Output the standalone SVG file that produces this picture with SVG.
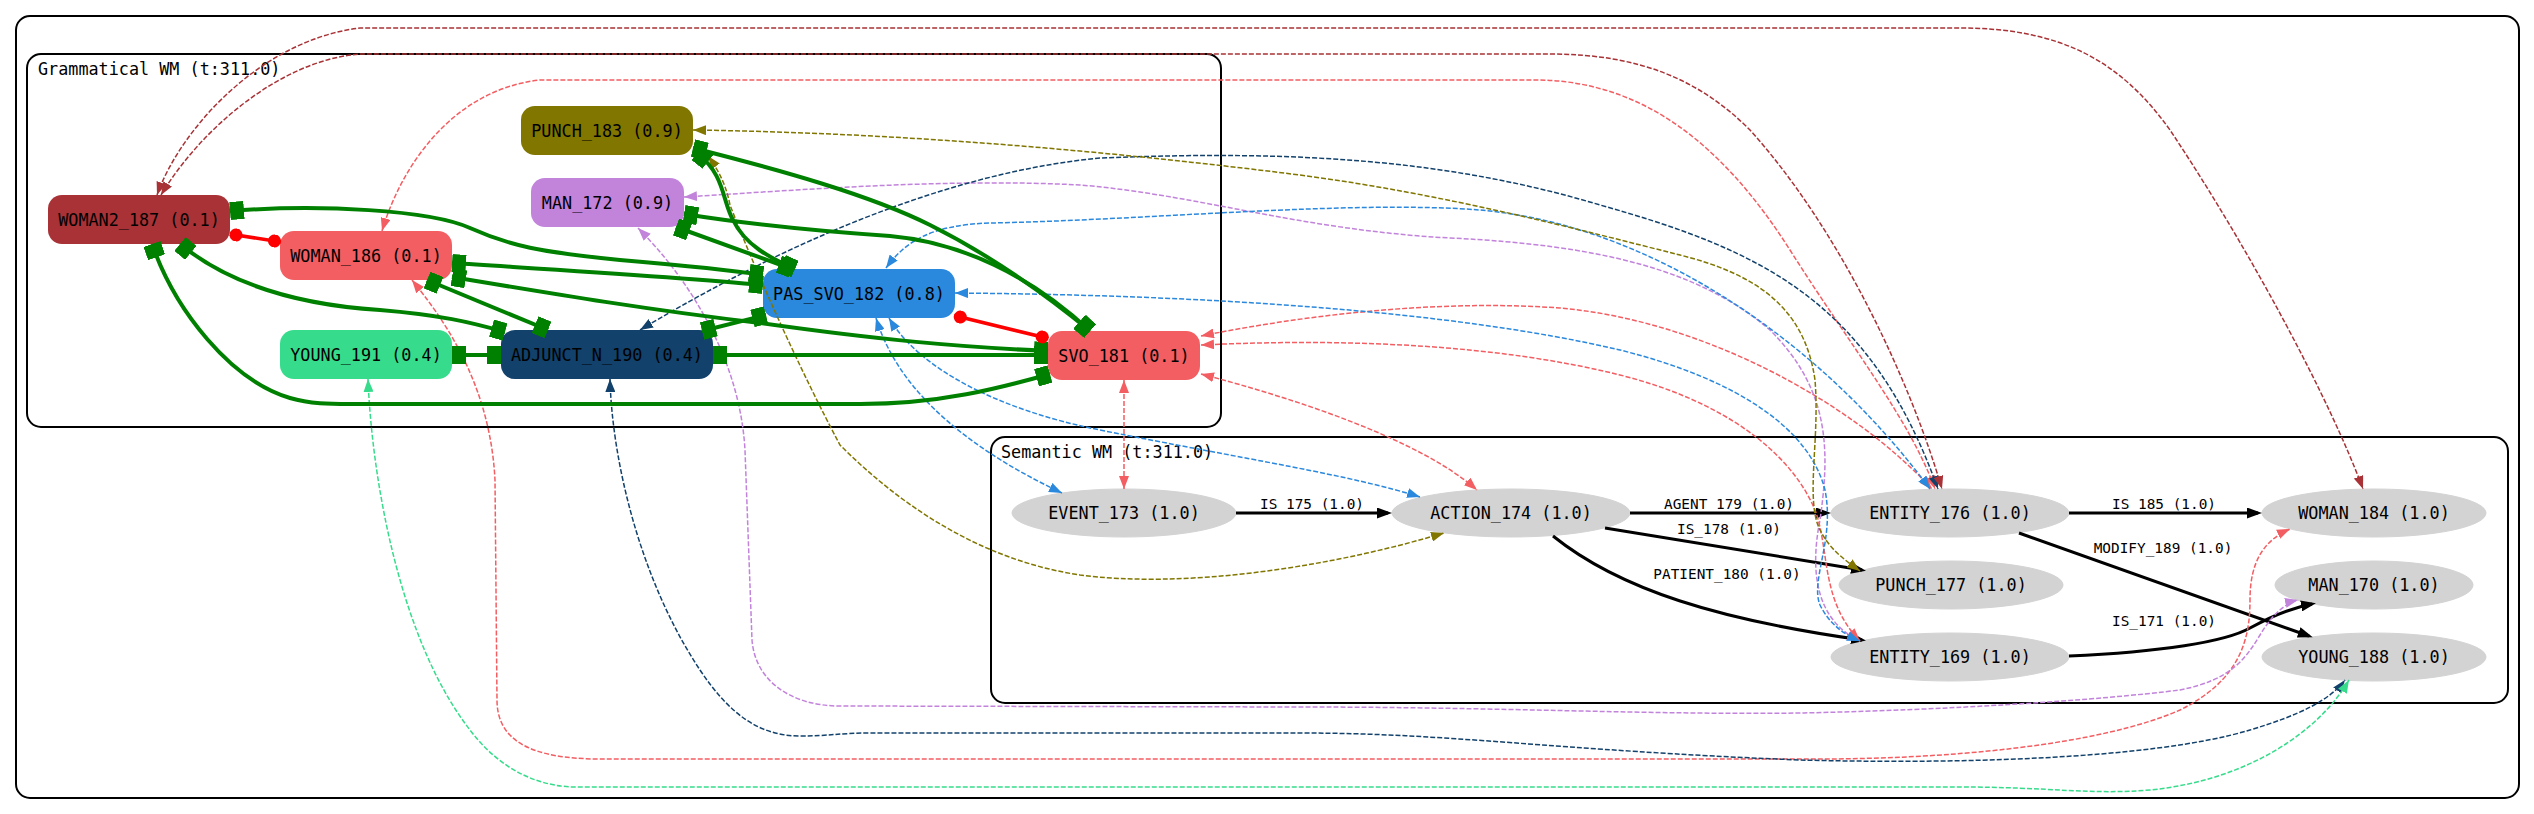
<svg xmlns="http://www.w3.org/2000/svg" width="2534" height="814" viewBox="0 0 2534 814">
<style>
.t{font-family:"DejaVu Sans Mono","Liberation Mono",monospace;font-size:16.8px;fill:#000;text-anchor:middle}
.cl{font-family:"DejaVu Sans Mono","Liberation Mono",monospace;font-size:16.8px;fill:#000}
.el{font-family:"DejaVu Sans Mono","Liberation Mono",monospace;font-size:14.4px;fill:#000;text-anchor:middle}
.box{fill:#fff;stroke:#000;stroke-width:2}
.sem{fill:#d3d3d3;stroke:#d3d3d3}
.g{fill:none;stroke:#008000;stroke-width:4;marker-start:url(#bx);marker-end:url(#bx)}
.r{fill:none;stroke:#f00;stroke-width:3.5;marker-start:url(#dt);marker-end:url(#dt)}
.k{fill:none;stroke:#000;stroke-width:3;marker-end:url(#ak)}
.d{fill:none;stroke-width:1.5;stroke-dasharray:5,2}
.cbr{stroke:#a83236;marker-start:url(#abr);marker-end:url(#abr)}
.csa{stroke:#f25e62;marker-start:url(#asa);marker-end:url(#asa)}
.cbl{stroke:#2a88dd;marker-start:url(#abl);marker-end:url(#abl)}
.cpu{stroke:#c283db;marker-start:url(#apu);marker-end:url(#apu)}
.cdb{stroke:#12416b;marker-start:url(#adb);marker-end:url(#adb)}
.cte{stroke:#36dc8b;marker-start:url(#ate);marker-end:url(#ate)}
.col{stroke:#807600;marker-start:url(#aol);marker-end:url(#aol)}
</style>
<defs>
<marker id="bx" markerUnits="userSpaceOnUse" markerWidth="14" markerHeight="18" viewBox="0 0 14 18" refX="14" refY="9" orient="auto-start-reverse"><rect width="14" height="18" fill="#008000"/></marker>
<marker id="dt" markerUnits="userSpaceOnUse" markerWidth="13" markerHeight="13" viewBox="0 0 13 13" refX="13" refY="6.5" orient="auto-start-reverse"><circle cx="6.5" cy="6.5" r="6.5" fill="#f00"/></marker>
<marker id="ak" markerUnits="userSpaceOnUse" markerWidth="15" markerHeight="11" viewBox="0 0 15 11" refX="11" refY="5.5" orient="auto"><path d="M0,0L15,5.5L0,11z" fill="#000"/></marker>
<marker id="abr" markerUnits="userSpaceOnUse" markerWidth="13" markerHeight="10" viewBox="0 0 13 10" refX="13" refY="5" orient="auto-start-reverse"><path d="M0,0L13,5L0,10z" fill="#a83236"/></marker>
<marker id="asa" markerUnits="userSpaceOnUse" markerWidth="13" markerHeight="10" viewBox="0 0 13 10" refX="13" refY="5" orient="auto-start-reverse"><path d="M0,0L13,5L0,10z" fill="#f25e62"/></marker>
<marker id="abl" markerUnits="userSpaceOnUse" markerWidth="13" markerHeight="10" viewBox="0 0 13 10" refX="13" refY="5" orient="auto-start-reverse"><path d="M0,0L13,5L0,10z" fill="#2a88dd"/></marker>
<marker id="apu" markerUnits="userSpaceOnUse" markerWidth="13" markerHeight="10" viewBox="0 0 13 10" refX="13" refY="5" orient="auto-start-reverse"><path d="M0,0L13,5L0,10z" fill="#c283db"/></marker>
<marker id="adb" markerUnits="userSpaceOnUse" markerWidth="13" markerHeight="10" viewBox="0 0 13 10" refX="13" refY="5" orient="auto-start-reverse"><path d="M0,0L13,5L0,10z" fill="#12416b"/></marker>
<marker id="ate" markerUnits="userSpaceOnUse" markerWidth="13" markerHeight="10" viewBox="0 0 13 10" refX="13" refY="5" orient="auto-start-reverse"><path d="M0,0L13,5L0,10z" fill="#36dc8b"/></marker>
<marker id="aol" markerUnits="userSpaceOnUse" markerWidth="13" markerHeight="10" viewBox="0 0 13 10" refX="13" refY="5" orient="auto-start-reverse"><path d="M0,0L13,5L0,10z" fill="#807600"/></marker>
</defs>
<rect width="2534" height="814" fill="#fff"/>
<g id="clusters">
<rect class="box" x="16" y="16" width="2503" height="782" rx="14"/>
<rect class="box" x="27" y="54" width="1194" height="373" rx="14"/>
<text class="cl" x="38" y="75">Grammatical WM (t:311.0)</text>
<rect class="box" x="991" y="437" width="1517" height="266" rx="14"/>
<text class="cl" x="1001" y="458">Semantic WM (t:311.0)</text>
</g>
<g id="WOMAN2_187"><rect x="48" y="195" width="182" height="49" rx="14" fill="#a83236"/><text class="t" x="139" y="225.5">WOMAN2_187 (0.1)</text></g>
<g id="WOMAN_186"><rect x="280" y="231" width="172" height="49" rx="14" fill="#f25e62"/><text class="t" x="366" y="261.5">WOMAN_186 (0.1)</text></g>
<g id="PUNCH_183"><rect x="521" y="106" width="172" height="49" rx="14" fill="#807600"/><text class="t" x="607" y="136.5">PUNCH_183 (0.9)</text></g>
<g id="MAN_172"><rect x="531" y="178" width="153" height="49" rx="14" fill="#c283db"/><text class="t" x="607.5" y="208.5">MAN_172 (0.9)</text></g>
<g id="YOUNG_191"><rect x="280" y="330" width="172" height="49" rx="14" fill="#36dc8b"/><text class="t" x="366" y="360.5">YOUNG_191 (0.4)</text></g>
<g id="ADJUNCT_N_190"><rect x="501" y="330" width="212" height="49" rx="14" fill="#12416b"/><text class="t" x="607" y="360.5">ADJUNCT_N_190 (0.4)</text></g>
<g id="PAS_SVO_182"><rect x="763" y="269" width="192" height="49" rx="14" fill="#2a88dd"/><text class="t" x="859" y="299.5">PAS_SVO_182 (0.8)</text></g>
<g id="SVO_181"><rect x="1048" y="331" width="152" height="49" rx="14" fill="#f25e62"/><text class="t" x="1124" y="361.5">SVO_181 (0.1)</text></g>
<g id="EVENT_173"><ellipse class="sem" cx="1124" cy="513" rx="112" ry="24"/><text class="t" x="1124" y="519">EVENT_173 (1.0)</text></g>
<g id="ACTION_174"><ellipse class="sem" cx="1511" cy="513" rx="119" ry="24"/><text class="t" x="1511" y="519">ACTION_174 (1.0)</text></g>
<g id="ENTITY_176"><ellipse class="sem" cx="1950" cy="513" rx="119" ry="24"/><text class="t" x="1950" y="519">ENTITY_176 (1.0)</text></g>
<g id="WOMAN_184"><ellipse class="sem" cx="2374" cy="513" rx="112" ry="24"/><text class="t" x="2374" y="519">WOMAN_184 (1.0)</text></g>
<g id="PUNCH_177"><ellipse class="sem" cx="1951" cy="585" rx="112" ry="24"/><text class="t" x="1951" y="591">PUNCH_177 (1.0)</text></g>
<g id="MAN_170"><ellipse class="sem" cx="2374" cy="585" rx="99" ry="24"/><text class="t" x="2374" y="591">MAN_170 (1.0)</text></g>
<g id="ENTITY_169"><ellipse class="sem" cx="1950" cy="657" rx="119" ry="24"/><text class="t" x="1950" y="663">ENTITY_169 (1.0)</text></g>
<g id="YOUNG_188"><ellipse class="sem" cx="2374" cy="657" rx="112" ry="24"/><text class="t" x="2374" y="663">YOUNG_188 (1.0)</text></g>
<g id="connectors">
<path class="k" d="M1236,513 L1388,513"/>
<path class="k" d="M1630,513 L1827,513"/>
<path class="k" d="M1605,528 L1862,570"/>
<path class="k" d="M1553,536 C1620,590 1720,620 1862,640"/>
<path class="k" d="M2069,513 L2258,513"/>
<path class="k" d="M2019,533 L2309,636"/>
<path class="k" d="M2069,656 C2160,652 2225,642 2250,628 C2270,617 2290,608 2312,604"/>
<path class="d cbr" d="M157,195 C180,130 260,40 360,28 L1960,28 C2060,28 2120,60 2170,130 C2250,250 2330,400 2363,489"/>
<path class="d csa" d="M382,231 C400,170 450,90 540,80 L1540,80 C1640,82 1720,140 1790,250 C1850,345 1910,420 1935,489"/>
<path class="d csa" d="M412,280 C440,315 490,380 495,480 L497,700 C497,740 530,759 600,759 L1800,759 C1950,760 2100,745 2180,710 C2240,680 2250,640 2250,600 C2250,560 2265,540 2290,529"/>
<path class="d csa" d="M1124,380 L1124,489"/>
<path class="d csa" d="M1201,374 C1300,400 1420,440 1477,490"/>
<path class="d csa" d="M1201,336 C1320,312 1450,300 1560,308 C1700,320 1850,400 1932,489"/>
<path class="d cpu" d="M684,197 C800,190 950,178 1080,185 C1200,195 1300,230 1450,238 C1600,245 1700,270 1770,330 C1830,390 1830,450 1820,520 C1810,570 1815,620 1860,641"/>
<path class="d csa" d="M1201,345 C1350,338 1500,345 1620,375 C1720,400 1790,450 1815,510 C1830,550 1820,600 1860,641"/>
<path class="d cpu" d="M638,228 C690,280 740,360 745,450 L752,640 C755,680 790,706 840,706 L1300,707 C1500,707 1650,715 1800,713 C1950,710 2100,700 2180,690 C2230,680 2245,660 2260,635 C2272,615 2285,603 2298,600"/>
<path class="d cbl" d="M876,318 C895,380 950,440 1062,493"/>
<path class="d cbl" d="M889,318 C920,370 1000,410 1100,430 C1250,460 1350,475 1420,497"/>
<path class="d cbl" d="M886,268 C905,242 930,225 990,223 C1150,220 1350,200 1480,210 C1650,225 1820,340 1930,489"/>
<path class="d cbl" d="M955,293 C1200,295 1450,310 1620,350 C1740,380 1810,430 1825,490 C1835,540 1810,580 1820,605 C1830,625 1845,635 1860,641"/>
<path class="d cdb" d="M640,330 C740,270 920,175 1100,158 C1300,150 1450,160 1600,205 C1760,250 1870,300 1938,489"/>
<path class="d cbr" d="M161,195 C200,130 280,60 360,54 L1550,54 C1640,54 1700,80 1750,130 C1840,230 1910,380 1942,489"/>
<path class="d cdb" d="M610,379 C612,460 640,580 700,670 C730,715 760,736 800,736 C830,736 840,733 870,733 L1300,733 C1450,733 1550,750 1800,760 C1950,764 2150,760 2250,730 C2300,715 2330,700 2345,680"/>
<path class="d cte" d="M368,379 C372,480 400,640 470,730 C500,770 540,788 580,787 L1960,787 C2050,787 2090,795 2150,790 C2250,780 2320,730 2349,680"/>
<path class="d col" d="M693,130 C900,133 1100,150 1300,175 C1450,195 1580,230 1680,255 C1760,275 1805,310 1815,380 C1820,440 1805,500 1820,530 C1830,550 1845,560 1860,571"/>
<path class="d col" d="M708,156 C722,175 727,190 730,205 C755,270 800,370 840,445 C900,505 980,560 1080,575 C1180,588 1320,570 1444,533"/>
<path class="g" d="M230,211 C320,204 430,210 470,228 C510,246 540,252 620,260 C690,266 730,270 763,275"/>
<path class="g" d="M452,263 C560,270 680,277 763,285"/>
<path class="g" d="M452,277 C560,295 650,310 760,323 C880,340 960,347 1048,351"/>
<path class="g" d="M427,280 L548,330"/>
<path class="g" d="M180,244 C230,285 300,305 380,310 C440,315 470,322 505,332"/>
<path class="g" d="M152,244 C175,310 230,380 290,398 C310,404 330,404 350,404 L860,404 C940,404 1000,388 1050,374"/>
<path class="g" d="M452,355 L501,355"/>
<path class="g" d="M713,355 L1048,355"/>
<path class="g" d="M702,331 L766,315"/>
<path class="g" d="M684,214 C760,226 830,232 890,236 C960,242 1030,275 1090,331"/>
<path class="g" d="M676,227 L792,269"/>
<path class="g" d="M693,148 C780,170 870,195 930,225 C990,255 1040,290 1090,331"/>
<path class="g" d="M697,153 C725,175 722,200 733,220 C745,245 770,258 795,269"/>
<path class="r" d="M229.6,234 L280.9,242"/>
<path class="r" d="M954,315.5 L1048.5,338.5"/>
<text class="el" x="1312" y="509">IS_175 (1.0)</text>
<text class="el" x="1729" y="509">AGENT_179 (1.0)</text>
<text class="el" x="1729" y="534">IS_178 (1.0)</text>
<text class="el" x="1727" y="579">PATIENT_180 (1.0)</text>
<text class="el" x="2164" y="509">IS_185 (1.0)</text>
<text class="el" x="2163" y="553">MODIFY_189 (1.0)</text>
<text class="el" x="2164" y="626">IS_171 (1.0)</text>
</g>
</svg>
